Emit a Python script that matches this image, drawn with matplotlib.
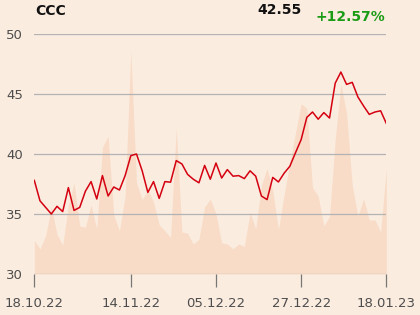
import numpy as np
import matplotlib
matplotlib.use("Agg")
import matplotlib.pyplot as plt

# ── Data ─────────────────────────────────────────────────────────────────────
ticker = "CCC"
last_price = "42.55"
change_pct = "+12.57%"

price = [37.8, 36.1, 35.55, 35.0, 35.64, 35.2, 37.2, 35.3, 35.55, 36.9,
         37.7, 36.25, 38.2, 36.5, 37.25, 37.0, 38.2, 39.86, 40.0, 38.6,
         36.8, 37.7, 36.3, 37.7, 37.65, 39.45, 39.17, 38.3, 37.9, 37.6,
         39.05, 37.9, 39.25, 38.0, 38.7, 38.15, 38.2, 37.95, 38.6, 38.15,
         36.5, 36.2, 38.05, 37.67, 38.4, 38.97, 40.1, 41.2, 43.05, 43.5,
         42.9, 43.45, 43.0, 45.9, 46.83, 45.8, 45.97, 44.75, 44.0, 43.3,
         43.5, 43.6, 42.55]

# volume, arbitrary units (drawn on its own axis behind the price)
volume = [2.8, 2.1, 3.2, 5.6, 3.3, 2.4, 5.7, 7.6, 4.0, 3.9,
          5.75, 3.75, 10.55, 11.5, 4.9, 3.6, 6.5, 18.6, 7.6, 6.2,
          7.0, 6.0, 4.1, 3.6, 3.05, 12.1, 3.5, 3.4, 2.5, 2.9,
          5.6, 6.25, 5.0, 2.6, 2.5, 2.1, 2.5, 2.3, 5.15, 3.75,
          7.4, 8.8, 6.9, 3.7, 6.6, 9.3, 11.75, 14.2, 13.8, 7.2,
          6.5, 4.0, 4.8, 11.2, 15.8, 13.4, 7.4, 4.8, 6.3, 4.5,
          4.5, 3.5, 8.8]

tick_idx = [0, 17, 32, 47, 62]          # trading-day positions
tick_labels = ["18.10.22", "14.11.22", "05.12.22", "27.12.22", "18.01.23"]
y_ticks = [30, 35, 40, 45, 50]

# ── Style ────────────────────────────────────────────────────────────────────
BG = "#fbece0"
VOL = "#f8dcc7"
LINE = "#d40010"
GRID = "#b3b3b3"
TXT = "#4d4d4d"

x = np.arange(len(price))

fig = plt.figure(figsize=(4.2, 3.15), dpi=100)
fig.patch.set_facecolor(BG)
ax = fig.add_axes([34.3 / 420, 41 / 315, 352 / 420, 240 / 315])
ax2 = ax.twinx()
ax2.set_facecolor(BG)
ax.set_zorder(ax2.get_zorder() + 1)
ax.patch.set_visible(False)

ax2.fill_between(x, 0, volume, color=VOL, linewidth=0)
ax2.set_ylim(0, 20)
ax2.set_yticks([])

ax.plot(x, price, color=LINE, linewidth=1.1, zorder=3)
ax.set_xlim(0, len(price) - 1)
ax.set_ylim(30, 50)
ax.set_yticks(y_ticks)
ax.grid(axis="y", color=GRID, linewidth=0.9, zorder=1)
ax.set_axisbelow(True)
ax.set_xticks(tick_idx)
ax.set_xticklabels(tick_labels)

for a in (ax, ax2):
    for spine in a.spines.values():
        spine.set_visible(False)

ax.tick_params(axis="y", length=0, pad=8, labelsize=9.5, labelcolor=TXT)
ax.tick_params(axis="x", length=9.5, width=0.9, color="#777777", pad=7,
               labelsize=9.5, labelcolor=TXT)

fig.text(35 / 420, 1 - 15 / 315, ticker, fontsize=10, fontweight="bold",
         color="#111111", ha="left", va="baseline")
fig.text(302 / 420, 1 - 14 / 315, last_price, fontsize=10, fontweight="bold",
         color="#111111", ha="right", va="baseline")
fig.text(385 / 420, 1 - 21 / 315, change_pct, fontsize=10, fontweight="bold",
         color="#1a9c14", ha="right", va="baseline")

fig.savefig("out.png", dpi=100, facecolor=BG)
